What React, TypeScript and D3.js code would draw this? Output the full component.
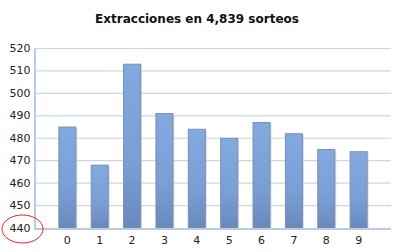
import React from "react";
import * as d3 from "d3";

const categories = ["0", "1", "2", "3", "4", "5", "6", "7", "8", "9"];
const values = [485, 468, 513, 491, 484, 480, 487, 482, 475, 474];
const yTicks = [440, 450, 460, 470, 480, 490, 500, 510, 520];
const title = "Extracciones en 4,839 sorteos";

export default function App() {
  const W = 403, H = 252;
  const left = 35, right = 391, top = 48.5, bottom = 228;
  const x = d3.scalePoint<string>().domain(categories).range([left, right]).padding(1);
  const y = d3.scaleLinear().domain([440, 520]).range([bottom, top]);
  const bw = 17;
  const font = "Verdana, 'DejaVu Sans', sans-serif";
  return (
    <svg width={W} height={H} style={{ position: "absolute", left: 0, top: 0, background: "#fff" }}>
      <defs>
        <linearGradient id="bg" x1="0" y1="0" x2="0" y2="1">
          <stop offset="0" stopColor="#82a9e0" />
          <stop offset="0.6" stopColor="#7a9fd6" />
          <stop offset="1" stopColor="#6889bd" />
        </linearGradient>
      </defs>
      <text x={197} y={23} textAnchor="middle" fontFamily={font} fontWeight="bold" fontSize={12} fill="#111">
        {title}
      </text>
      {yTicks.map((t) => (
        <g key={t}>
          {t !== 440 && (
            <line x1={left} x2={right} y1={y(t)} y2={y(t)} stroke="#c6d7ee" strokeWidth={1.2} />
          )}
          <text x={30.5} y={y(t) + 3.5} textAnchor="end" fontFamily={font} fontSize={11} fill="#222">
            {t}
          </text>
        </g>
      ))}
      {categories.map((c, i) => {
        const cx = x(c)!;
        const yt = y(values[i]);
        return (
          <g key={c}>
            <rect x={cx - bw / 2 + 1.5} y={yt + 1} width={bw} height={bottom - yt - 1} fill="#c9cfd8" opacity={0.7} />
            <rect x={cx - bw / 2} y={yt} width={bw} height={bottom - yt} fill="url(#bg)" stroke="#7d8ea6" strokeWidth={1} />
            <text x={cx} y={244} textAnchor="middle" fontFamily={font} fontSize={11} fill="#222">
              {c}
            </text>
          </g>
        );
      })}
      <line x1={left} x2={right} y1={bottom + 1} y2={bottom + 1} stroke="#b8cbe2" strokeWidth={2} />
      <line x1={left} x2={left} y1={top} y2={bottom + 2} stroke="#b8cbe2" strokeWidth={2} />
      <ellipse cx={22.5} cy={229} rx={20.5} ry={14} fill="none" stroke="#e0262a" strokeWidth={1} />
    </svg>
  );
}
